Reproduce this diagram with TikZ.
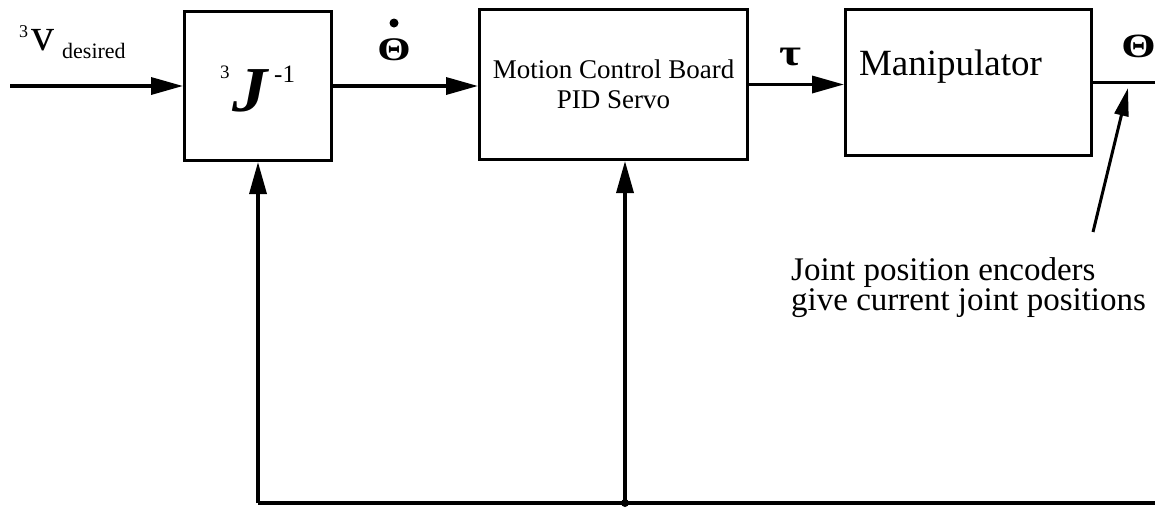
\documentclass[tikz,border=0pt]{standalone}
\usepackage{fontspec}
\setmainfont{Liberation Serif}
\usepackage{graphicx}
\usetikzlibrary{arrows.meta}
\begin{document}
\begin{tikzpicture}[x=1pt,y=-1pt,
  blk/.style={draw, line width=3pt, inner sep=0pt},
  sig/.style={line width=3.4pt, -{Triangle[length=32pt,width=17pt]}},
  wire/.style={line width=3.4pt},
  lbl/.style={inner sep=0pt, anchor=base west}]
\useasboundingbox (0,0) rectangle (1155,507);
% blocks
\node[blk, minimum width=147pt, minimum height=149pt] (J) at (258,86) {};
\node[blk, minimum width=268pt, minimum height=150pt, align=center,
      font=\fontsize{27}{30}\selectfont] (M) at (613.5,84.5) {Motion Control Board\\PID Servo};
\node[blk, minimum width=246pt, minimum height=146pt] (P) at (968.5,82.5) {};
\node[lbl, anchor=base, font=\fontsize{37}{37}\selectfont] (mt) at (950.5,75) {Manipulator};
% J^-1
\node[lbl, font=\fontsize{19}{19}\selectfont] (j3) at (220,78) {3};
\node[lbl, font=\fontsize{64}{64}\selectfont\bfseries\itshape] (jJ) at (232,111) {\scalebox{1.1}[1]{J}};
\node[lbl, font=\fontsize{25}{25}\selectfont] (jm) at (274,82) {-1};
% input label
\node[lbl, font=\fontsize{18}{18}\selectfont] (v3) at (19,37) {3};
\node[lbl, font=\fontsize{46}{46}\selectfont] (vv) at (31,50) {v};
\node[lbl, font=\fontsize{22}{22}\selectfont] (vd) at (62,58) {desired};
% theta dot
\node[lbl, anchor=base, font=\fontsize{33}{33}\selectfont\bfseries] (td) at (394,60) {\scalebox{1.3}[1]{Θ}};
\fill (394,23) circle (4.5pt);
% tau
\node[lbl, font=\fontsize{38}{38}\selectfont\bfseries] (tau) at (779,65) {\scalebox{1.25}[1]{τ}};
% theta out
\node[lbl, anchor=base, font=\fontsize{34}{34}\selectfont\bfseries] (th) at (1138.5,57) {\scalebox{1.3}[1]{Θ}};
% connectors
\coordinate (in) at (10,86);
\draw[sig] (in) -- (J.west);
\draw[sig] (J.east) -- (J.east -| M.west);
\draw[sig] (M.east) -- (M.east -| P.west);
\coordinate (out) at (1155,83);
\draw[wire] (P.east) -- (P.east -| out);
% feedback
\coordinate (fb1) at (258,503);
\coordinate (fb2) at (625,503);
\coordinate (fbR) at (1155,503);
\draw[wire] (fbR) -- (fb1);
\draw[sig] (fb1) -- (J.south);
\draw[sig] (fb2) -- (fb2 |- M.south);
\fill (fb2) circle (4pt);
% annotation
\node[inner sep=0pt, anchor=north west, align=left,
      font=\fontsize{33}{27}\selectfont] (ann) at (791,257.5)
      {Joint position encoders\\give current joint positions};
\coordinate (encA) at (1093,232);
\coordinate (encB) at (1128,88);
\draw[line width=3pt, -{Triangle[length=28pt,width=14pt]}] (encA) -- (encB);
\end{tikzpicture}
\end{document}
